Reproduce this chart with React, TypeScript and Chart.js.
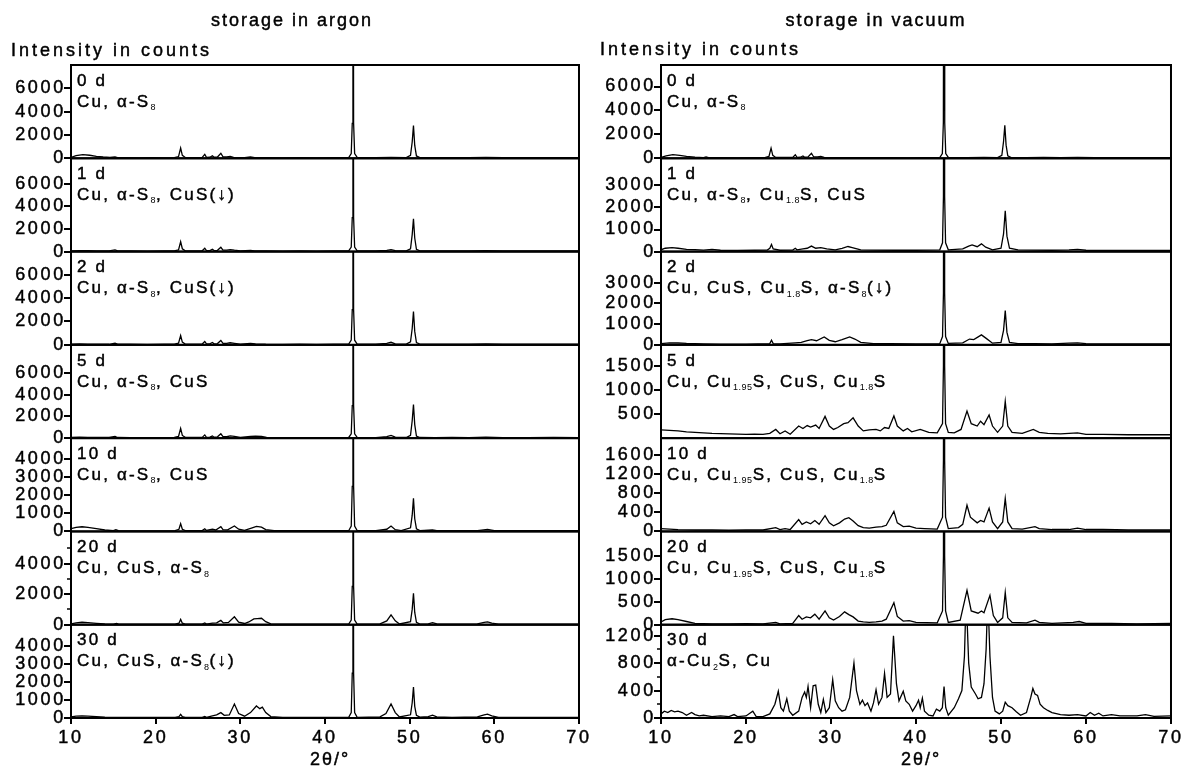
import React, { useEffect, useRef } from 'react';
import { Chart, registerables } from 'chart.js';

Chart.register(...registerables);

type Point = [number, number];

const FONT = '"Liberation Sans", Arial, Helvetica, sans-serif';

// 2θ axis ticks
const angleTicks = [10, 20, 30, 40, 50, 60, 70];

const dayLabels = ['0 d', '1 d', '2 d', '5 d', '10 d', '20 d', '30 d'];

// phase annotations, _{...} marks a subscript
const argonPhases = [
  'Cu, α-S_{8}',
  'Cu, α-S_{8}, CuS(↓)',
  'Cu, α-S_{8}, CuS(↓)',
  'Cu, α-S_{8}, CuS',
  'Cu, α-S_{8}, CuS',
  'Cu, CuS, α-S_{8}',
  'Cu, CuS, α-S_{8}(↓)',
];
const vacuumPhases = [
  'Cu, α-S_{8}',
  'Cu, α-S_{8}, Cu_{1.8}S, CuS',
  'Cu, CuS, Cu_{1.8}S, α-S_{8}(↓)',
  'Cu, Cu_{1.95}S, CuS, Cu_{1.8}S',
  'Cu, Cu_{1.95}S, CuS, Cu_{1.8}S',
  'Cu, Cu_{1.95}S, CuS, Cu_{1.8}S',
  'α-Cu_{2}S, Cu',
];

// intensity ranges and ticks per panel
const argonMax = [8000, 8240, 7970, 8600, 5170, 6100, 5200];
const argonTicks = [
  [0, 2000, 4000, 6000],
  [0, 2000, 4000, 6000],
  [0, 2000, 4000, 6000],
  [0, 2000, 4000, 6000],
  [0, 1000, 2000, 3000, 4000],
  [0, 2000, 4000],
  [0, 1000, 2000, 3000, 4000],
];
const argonMinorTicks = [[], [], [], [], [], [1000, 3000, 5000], []];

const vacuumMax = [7800, 4230, 4500, 1930, 1960, 2030, 1360];
const vacuumTicks = [
  [0, 2000, 4000, 6000],
  [0, 1000, 2000, 3000],
  [0, 1000, 2000, 3000],
  [500, 1000, 1500],
  [0, 400, 800, 1200, 1600],
  [0, 500, 1000, 1500],
  [0, 400, 800, 1200],
];
const vacuumMinorTicks = [[], [], [], [], [], [], [200, 600, 1000]];

// diffraction patterns: [2θ in °, intensity in counts]
const argon0d: Point[] = [
  [10, 80], [10.6, 220], [11.4, 320], [12.2, 260], [13, 170], [13.8, 110], [14.6, 70], [15.2, 110], [15.5, 60],
  [16.5, 50], [18, 40], [19.5, 50], [21, 40], [22.2, 60], [22.7, 150], [22.95, 880], [23.15, 250], [23.5, 70],
  [24.5, 60], [25.5, 70], [25.8, 330], [26.0, 80], [26.4, 90], [26.7, 220], [26.9, 90], [27.3, 110], [27.7, 430],
  [27.95, 130], [28.4, 120], [28.8, 170], [29.2, 80], [30.5, 60], [31.2, 110], [31.7, 60], [33, 50], [35, 40],
  [37, 50], [39, 40], [41, 50], [42.8, 60], [43.1, 400], [43.22, 3000], [43.3, 40000], [43.38, 3000], [43.5, 400],
  [43.8, 70], [46, 50], [47.8, 70], [49.6, 60], [50.1, 250], [50.3, 1400], [50.45, 2800], [50.6, 1100], [50.8, 200],
  [51.2, 60], [53, 50], [55, 60], [57, 50], [59, 70], [61, 50], [64, 50], [67, 60], [70, 50],
];
const argon1d: Point[] = [
  [10, 60], [11, 90], [12, 80], [13, 70], [14.5, 60], [15.2, 150], [15.5, 60], [17, 50], [19, 40], [21, 50],
  [22.2, 60], [22.7, 150], [22.95, 880], [23.15, 250], [23.5, 70], [25.5, 70], [25.8, 300], [26.0, 80], [26.4, 90],
  [26.7, 200], [26.9, 90], [27.3, 110], [27.7, 380], [27.95, 130], [28.4, 120], [28.8, 170], [29.3, 120], [30, 70],
  [31.2, 110], [31.7, 60], [33, 50], [35, 40], [37, 50], [39, 40], [41, 50], [42.8, 60], [43.1, 400], [43.22, 3000],
  [43.3, 40000], [43.38, 3000], [43.5, 400], [43.8, 70], [46, 50], [47.3, 100], [47.8, 170], [48.3, 80], [49.6, 60],
  [50.1, 250], [50.3, 1500], [50.45, 2900], [50.6, 1200], [50.8, 200], [51.2, 60], [53, 50], [55, 60], [57, 50],
  [59, 80], [61, 50], [64, 50], [67, 60], [70, 50],
];
const argon2d: Point[] = [
  [10, 60], [11, 80], [12, 70], [13, 60], [14.5, 50], [15.2, 140], [15.5, 60], [17, 50], [19, 40], [21, 50],
  [22.2, 60], [22.7, 150], [22.95, 800], [23.15, 230], [23.5, 70], [25.5, 70], [25.8, 290], [26.0, 80], [26.4, 90],
  [26.7, 200], [26.9, 90], [27.3, 110], [27.7, 380], [27.95, 130], [28.4, 120], [28.8, 180], [29.3, 130], [30, 70],
  [31.2, 120], [31.8, 90], [33, 50], [35, 40], [37, 50], [39, 40], [41, 50], [42.8, 60], [43.1, 400], [43.22, 3000],
  [43.3, 40000], [43.38, 3000], [43.5, 400], [43.8, 70], [46, 50], [47.3, 120], [47.8, 220], [48.3, 90], [49.6, 60],
  [50.1, 250], [50.3, 1400], [50.45, 2850], [50.6, 1150], [50.8, 200], [51.2, 60], [53, 50], [55, 60], [57, 50],
  [59, 80], [61, 50], [64, 50], [67, 60], [70, 50],
];
const argon5d: Point[] = [
  [10, 60], [11, 90], [12, 80], [13, 70], [14.5, 60], [15.2, 150], [15.5, 60], [17, 50], [19, 40], [21, 50],
  [22.2, 60], [22.7, 160], [22.95, 900], [23.15, 250], [23.5, 70], [25.5, 70], [25.8, 300], [26.0, 80], [26.4, 90],
  [26.7, 200], [26.9, 90], [27.3, 120], [27.7, 400], [27.95, 140], [28.4, 130], [28.8, 200], [29.3, 160], [30, 80],
  [31.2, 150], [31.8, 190], [32.5, 160], [33.1, 80], [35, 40], [37, 50], [39, 40], [41, 50], [42.8, 60], [43.1, 400],
  [43.22, 3000], [43.3, 40000], [43.38, 3000], [43.5, 400], [43.8, 70], [46, 50], [47.3, 130], [47.8, 260], [48.3, 100],
  [49.6, 60], [50.1, 260], [50.3, 1600], [50.45, 3100], [50.6, 1250], [50.8, 200], [51.2, 60], [53, 50], [55, 60],
  [57, 50], [59, 90], [61, 50], [64, 50], [67, 60], [70, 50],
];
const argon10d: Point[] = [
  [10, 150], [10.6, 230], [11.3, 260], [12, 220], [13, 150], [14, 80], [15, 50], [15.3, 90], [15.6, 40], [17, 30],
  [19, 30], [21, 30], [22.3, 50], [22.75, 120], [22.95, 430], [23.15, 120], [23.5, 50], [25.5, 50], [25.8, 150],
  [26.0, 60], [26.7, 120], [27.1, 80], [27.7, 260], [27.95, 100], [28.5, 90], [29.3, 300], [29.8, 120], [30.5, 60],
  [31.4, 200], [31.9, 280], [32.5, 240], [33.0, 100], [34, 50], [36, 40], [38, 40], [40, 40], [42.8, 40], [43.1, 300],
  [43.22, 2500], [43.3, 30000], [43.38, 2500], [43.5, 300], [43.8, 50], [46, 40], [47.3, 120], [47.8, 300], [48.3, 100],
  [49, 40], [50.1, 200], [50.3, 900], [50.45, 1830], [50.6, 700], [50.8, 150], [51.2, 50], [52.7, 80], [53.2, 40],
  [55, 40], [58, 50], [59.2, 110], [60, 40], [63, 40], [66, 40], [70, 40],
];
const argon20d: Point[] = [
  [10, 50], [10.6, 120], [11.3, 160], [12, 140], [13, 90], [14, 50], [15, 40], [15.4, 80], [15.7, 30], [17, 30],
  [19, 30], [21, 30], [22.3, 40], [22.75, 100], [22.95, 350], [23.15, 100], [23.5, 40], [25.5, 40], [25.8, 120],
  [26.0, 40], [26.7, 110], [27.2, 120], [27.7, 280], [28.0, 120], [28.6, 150], [29.3, 520], [29.8, 170], [30.5, 80],
  [31.0, 180], [31.6, 380], [32.0, 400], [32.5, 420], [33.0, 200], [33.6, 60], [35, 40], [37, 40], [40, 40],
  [42.8, 40], [43.1, 300], [43.22, 2500], [43.3, 30000], [43.38, 2500], [43.5, 300], [43.8, 40], [46.5, 50],
  [47.3, 250], [47.8, 650], [48.3, 250], [48.8, 50], [50.1, 200], [50.3, 1000], [50.45, 2050], [50.6, 800],
  [50.8, 150], [51.2, 40], [52.2, 60], [52.7, 130], [53.2, 50], [55, 40], [58, 60], [58.8, 150], [59.2, 180],
  [59.7, 100], [60.5, 40], [63, 40], [66, 30], [70, 40],
];
const argon30d: Point[] = [
  [10, 60], [10.6, 110], [11.3, 120], [12, 110], [13, 80], [14, 50], [15, 40], [17, 30], [19, 30], [21, 30],
  [22.3, 40], [22.75, 80], [22.95, 200], [23.15, 70], [23.5, 40], [25.5, 40], [25.8, 90], [26.0, 40], [26.7, 120],
  [27.2, 180], [27.7, 300], [28.1, 150], [28.7, 170], [29.3, 780], [29.8, 250], [30.5, 100], [31.2, 300],
  [31.9, 670], [32.3, 520], [32.6, 600], [33.0, 300], [33.6, 80], [35, 40], [37, 40], [40, 40], [42.8, 40],
  [43.1, 300], [43.22, 2500], [43.3, 30000], [43.38, 2500], [43.5, 300], [43.8, 40], [46.5, 60], [47.2, 250],
  [47.8, 780], [48.3, 300], [48.8, 60], [50.1, 180], [50.3, 850], [50.45, 1720], [50.6, 650], [50.8, 150],
  [51.2, 50], [52.2, 80], [52.7, 160], [53.2, 60], [55, 40], [58, 60], [58.8, 170], [59.2, 210], [59.7, 120],
  [60.5, 40], [63, 40], [66, 30], [70, 40],
];

const vacuum0d: Point[] = [
  [10, 80], [10.6, 200], [11.4, 300], [12.2, 250], [13, 160], [14, 100], [15, 60], [15.3, 110], [15.6, 50],
  [17, 50], [19, 40], [21, 50], [22.2, 60], [22.7, 150], [22.95, 850], [23.15, 250], [23.5, 70], [25.5, 70],
  [25.8, 300], [26.0, 80], [26.4, 90], [26.7, 200], [26.9, 90], [27.3, 120], [27.7, 420], [27.95, 130], [28.4, 110],
  [28.8, 150], [29.2, 80], [31, 60], [33, 60], [35, 50], [37, 60], [39, 40], [41, 50], [42.8, 60], [43.1, 400],
  [43.22, 3000], [43.3, 40000], [43.38, 3000], [43.5, 400], [43.8, 70], [46, 60], [48, 70], [49.6, 60], [50.1, 250],
  [50.3, 1400], [50.45, 2750], [50.6, 1100], [50.8, 200], [51.2, 60], [53, 60], [55, 70], [57, 60], [59, 80],
  [61, 50], [64, 60], [67, 50], [70, 50],
];
const vacuum1d: Point[] = [
  [10, 80], [10.5, 150], [11.3, 180], [12, 150], [13, 100], [14, 90], [15, 70], [16, 100], [17, 60], [19, 50],
  [21, 60], [22.5, 70], [22.8, 150], [23.0, 320], [23.2, 120], [24, 60], [25.5, 70], [25.8, 150], [26.0, 80],
  [26.7, 120], [27.2, 150], [27.7, 250], [28.2, 150], [28.8, 180], [29.5, 120], [30.5, 80], [31.3, 150], [32.0, 230],
  [32.5, 180], [33.5, 80], [35, 70], [37.5, 60], [40, 60], [42.8, 80], [43.12, 400], [43.23, 2500], [43.3, 30000],
  [43.37, 2500], [43.48, 400], [43.8, 80], [45.5, 120], [46.2, 250], [46.6, 300], [47.2, 220], [47.7, 350],
  [48.2, 200], [49, 80], [50.0, 150], [50.3, 800], [50.5, 1850], [50.7, 700], [51, 150], [52, 80], [54, 70],
  [56, 60], [58, 80], [59, 100], [60, 60], [63, 50], [67, 50], [70, 50],
];
const vacuum2d: Point[] = [
  [10, 60], [11, 100], [12, 90], [13, 70], [15, 50], [17, 40], [20, 40], [22.8, 60], [23.0, 220], [23.2, 60],
  [24, 50], [25.8, 100], [26.5, 120], [27.2, 200], [27.7, 250], [28.3, 200], [29.2, 380], [29.8, 220], [30.5, 150],
  [31.3, 250], [32.2, 380], [32.8, 280], [33.5, 120], [35, 60], [37, 60], [40, 50], [42.8, 60], [43.12, 400],
  [43.23, 2500], [43.3, 30000], [43.37, 2500], [43.48, 400], [43.8, 70], [45.5, 100], [46.3, 280], [46.8, 250],
  [47.7, 480], [48.3, 300], [49, 80], [50.0, 120], [50.3, 700], [50.5, 1650], [50.7, 600], [51, 120], [52, 60],
  [54, 60], [56, 50], [58, 80], [59, 100], [60, 60], [65, 50], [70, 50],
];
const vacuum5d: Point[] = [
  [10, 170], [11, 160], [12, 150], [13, 130], [14, 120], [15, 110], [16, 100], [17, 95], [18, 90], [19, 85],
  [20, 80], [21, 85], [22, 80], [22.8, 100], [23.5, 180], [24, 90], [24.6, 150], [25.2, 80], [26.2, 250], [26.7, 200],
  [27.2, 260], [27.6, 230], [28.2, 270], [28.6, 200], [29.3, 450], [29.8, 250], [30.3, 180], [30.8, 220], [31.5, 300],
  [32.0, 320], [32.6, 420], [33.2, 250], [33.8, 150], [34.5, 170], [35.3, 180], [35.8, 150], [36.3, 220], [36.8, 200],
  [37.4, 460], [37.8, 250], [38.5, 150], [39, 200], [39.5, 130], [40.5, 180], [41.5, 120], [42.5, 110],
  [43.12, 300], [43.23, 1500], [43.3, 15000], [43.37, 1500], [43.48, 300], [43.8, 120], [44.5, 110], [45.3, 180],
  [46.0, 560], [46.5, 300], [47.2, 250], [47.6, 350], [48.0, 280], [48.6, 480], [49.0, 250], [49.6, 120],
  [50.2, 250], [50.5, 760], [50.8, 250], [51.3, 120], [52.5, 100], [53.8, 180], [54.5, 120], [55.5, 100], [57, 90],
  [59, 110], [60, 80], [62, 80], [65, 70], [70, 70],
];
const vacuum10d: Point[] = [
  [10, 60], [11, 50], [12, 40], [14, 30], [16, 30], [18, 25], [20, 30], [22, 30], [23.5, 80], [24, 40], [24.6, 60],
  [25.2, 40], [26.2, 250], [26.6, 150], [27.1, 200], [27.6, 160], [28.1, 230], [28.6, 150], [29.3, 330], [29.8, 180],
  [30.3, 120], [31.0, 180], [31.6, 260], [32.1, 290], [32.6, 220], [33.2, 120], [33.8, 80], [34.5, 70], [35.3, 90],
  [36, 100], [36.5, 130], [37.4, 420], [37.8, 180], [38.5, 100], [39.2, 110], [40, 70], [41, 60], [42.5, 50],
  [43.12, 300], [43.23, 1500], [43.3, 15000], [43.37, 1500], [43.48, 300], [43.8, 60], [45, 80], [45.5, 150],
  [46.0, 550], [46.4, 300], [47.2, 180], [47.6, 230], [48.0, 200], [48.6, 490], [49.0, 200], [49.6, 60], [50.2, 200],
  [50.5, 690], [50.8, 200], [51.3, 60], [52.5, 50], [54, 100], [54.5, 60], [56, 40], [58, 40], [59, 70], [60, 40],
  [62, 40], [65, 30], [70, 30],
];
const vacuum20d: Point[] = [
  [10, 60], [10.5, 110], [11.3, 130], [12, 110], [13, 70], [14, 30], [16, 20], [18, 20], [20, 25], [22, 20],
  [23.5, 50], [24, 20], [25.5, 30], [26.2, 200], [26.6, 120], [27.1, 170], [27.6, 150], [28.1, 230], [28.6, 120],
  [29.3, 300], [29.8, 150], [30.3, 100], [31.0, 180], [31.6, 280], [32.1, 220], [32.6, 170], [33.2, 80], [33.8, 60],
  [34.5, 50], [35.3, 60], [36, 80], [36.5, 120], [37.4, 480], [37.8, 180], [38.5, 80], [39.2, 90], [40, 50],
  [42.5, 40], [43.12, 300], [43.23, 1500], [43.3, 15000], [43.37, 1500], [43.48, 300], [43.8, 50], [45.2, 100],
  [46.0, 750], [46.5, 300], [47.3, 250], [47.7, 300], [48.0, 260], [48.7, 640], [49.1, 200], [49.6, 50], [50.2, 150],
  [50.5, 700], [50.8, 150], [51.3, 50], [53, 40], [54, 100], [54.5, 50], [56, 30], [58.5, 50], [59.2, 70], [60, 30],
  [63, 30], [66, 20], [70, 30],
];
const vacuum30d: Point[] = [
  [10, 60], [10.4, 100], [10.8, 80], [11.2, 110], [11.6, 90], [12, 100], [12.5, 80], [13, 40], [13.6, 80], [14, 50],
  [14.5, 30], [15, 40], [16, 20], [17, 30], [18, 20], [18.6, 50], [19, 20], [20, 30], [20.8, 100], [21.2, 20],
  [22, 20], [22.8, 60], [23.4, 200], [23.8, 390], [24.1, 150], [24.4, 100], [24.8, 280], [25.1, 100], [25.5, 40],
  [26.2, 100], [26.6, 300], [26.9, 380], [27.1, 300], [27.3, 460], [27.6, 150], [27.9, 470], [28.2, 480], [28.5, 200],
  [28.8, 80], [29.1, 270], [29.4, 80], [29.8, 150], [30.2, 560], [30.5, 250], [30.9, 150], [31.3, 100], [31.7, 120],
  [32.2, 300], [32.7, 800], [33.0, 400], [33.4, 200], [33.7, 260], [34.0, 180], [34.3, 220], [34.7, 100], [35.0, 220],
  [35.3, 410], [35.6, 200], [36.0, 300], [36.3, 650], [36.6, 300], [37.0, 350], [37.35, 1200], [37.7, 500],
  [38.0, 250], [38.5, 390], [38.8, 250], [39.2, 200], [39.6, 100], [40.0, 180], [40.3, 260], [40.5, 150],
  [40.75, 290], [41.0, 100], [41.5, 40], [42.0, 30], [42.4, 130], [42.8, 100], [43.1, 150], [43.3, 460], [43.5, 150],
  [43.8, 40], [44.5, 150], [45.0, 280], [45.4, 400], [45.7, 900], [45.9, 1800], [46.2, 800], [46.5, 450], [47.0, 350],
  [47.3, 280], [47.7, 300], [48.0, 500], [48.25, 1000], [48.45, 1800], [48.7, 900], [49.0, 300], [49.3, 100],
  [49.8, 60], [50.2, 100], [50.5, 230], [50.8, 180], [51.3, 150], [51.8, 90], [52.3, 40], [53.0, 80], [53.5, 300],
  [53.75, 430], [54.0, 350], [54.3, 330], [54.6, 200], [55.0, 150], [55.5, 110], [56, 80], [57, 50], [58, 40],
  [59, 50], [60, 30], [60.5, 80], [61, 40], [61.5, 70], [62, 30], [63, 50], [64, 30], [66, 30], [67, 50], [68, 25],
  [70, 30],
];

interface ColumnSpec {
  title: string;
  spectra: Point[][];
  yMax: number[];
  yTicks: number[][];
  yMinor: number[][];
  phases: string[];
}

interface ColumnLayout {
  left: number;
  padLeft: number;
  padRight: number;
  titleX: number;
  intensityX: number;
  intensityY: number;
}

const argonColumn: ColumnSpec = {
  title: 'storage in argon',
  spectra: [argon0d, argon1d, argon2d, argon5d, argon10d, argon20d, argon30d],
  yMax: argonMax,
  yTicks: argonTicks,
  yMinor: argonMinorTicks,
  phases: argonPhases,
};
const vacuumColumn: ColumnSpec = {
  title: 'storage in vacuum',
  spectra: [vacuum0d, vacuum1d, vacuum2d, vacuum5d, vacuum10d, vacuum20d, vacuum30d],
  yMax: vacuumMax,
  yTicks: vacuumTicks,
  yMinor: vacuumMinorTicks,
  phases: vacuumPhases,
};

const argonLayout: ColumnLayout = { left: 0, padLeft: 11, padRight: 7, titleX: 292, intensityX: 11, intensityY: 51 };
const vacuumLayout: ColumnLayout = { left: 592, padLeft: 9, padRight: 12, titleX: 284, intensityX: 8, intensityY: 50 };

const CANVAS_W = 592;
const CANVAS_H = 776;
const Y_AXIS_W = 60;
const X_AXIS_H = 40;
const TEXT_STROKE = 0.45;

function splitSubscripts(text: string) {
  const parts: { t: string; sub: boolean }[] = [];
  const re = /_\{([^}]*)\}/g;
  let last = 0;
  let m: RegExpExecArray | null;
  while ((m = re.exec(text))) {
    if (m.index > last) parts.push({ t: text.slice(last, m.index), sub: false });
    parts.push({ t: m[1], sub: true });
    last = re.lastIndex;
  }
  if (last < text.length) parts.push({ t: text.slice(last), sub: false });
  return parts;
}

// filled text with a thin outline so it reads a little heavier
function boldText(ctx: any, t: string, x: number, y: number) {
  ctx.fillText(t, x, y);
  ctx.strokeText(t, x, y);
}

function drawRichText(ctx: any, text: string, x: number, y: number, size: number) {
  let cx = x;
  for (const p of splitSubscripts(text)) {
    if (p.sub) {
      ctx.font = `${Math.round(size * 0.55)}px ${FONT}`;
      ctx.letterSpacing = '0.5px';
      ctx.fillText(p.t, cx, y + size * 0.33);
    } else {
      ctx.font = `${size}px ${FONT}`;
      ctx.letterSpacing = '2.2px';
      boldText(ctx, p.t, cx, y);
    }
    cx += ctx.measureText(p.t).width;
  }
}

function SpectraColumn({ spec, layout }: { spec: ColumnSpec; layout: ColumnLayout }) {
  const ref = useRef<HTMLCanvasElement>(null);

  useEffect(() => {
    const canvas = ref.current;
    if (!canvas) return;
    const n = spec.spectra.length;

    const tickFont = { family: FONT, size: 18 };

    const scales: any = {
      x: {
        type: 'linear',
        position: 'bottom',
        min: 10,
        max: 70,
        afterBuildTicks: (s: any) => {
          s.ticks = angleTicks.map((v) => ({ value: v }));
        },
        afterFit: (s: any) => {
          s.height = X_AXIS_H;
        },
        grid: { display: true, drawOnChartArea: false, drawTicks: true, tickLength: 6, color: '#000', lineWidth: 2 },
        border: { display: false },
        ticks: {
          autoSkip: false,
          maxRotation: 0,
          color: '#000',
          padding: 3,
          font: tickFont,
          textStrokeColor: '#000',
          textStrokeWidth: TEXT_STROKE,
          callback: (v: any) => String(v),
        },
      },
    };

    spec.spectra.forEach((_, i) => {
      scales['y' + i] = {
        type: 'linear',
        position: 'left',
        stack: 'panels',
        stackWeight: 1,
        weight: n - i,
        min: 0,
        max: spec.yMax[i],
        afterBuildTicks: (s: any) => {
          s.ticks = spec.yTicks[i].map((v) => ({ value: v }));
        },
        afterFit: (s: any) => {
          s.width = Y_AXIS_W;
        },
        grid: { display: false, drawTicks: false },
        border: { display: false },
        ticks: {
          autoSkip: false,
          color: '#000',
          padding: 5,
          font: tickFont,
          textStrokeColor: '#000',
          textStrokeWidth: TEXT_STROKE,
          callback: (v: any) => String(v),
        },
      };
    });

    const decor = {
      id: 'columnDecor',
      beforeDraw(chart: any) {
        chart.ctx.letterSpacing = '2.7px';
      },
      afterDatasetsDraw(chart: any) {
        const ctx = chart.ctx;
        const a = chart.chartArea;
        ctx.save();
        ctx.strokeStyle = '#000';
        ctx.fillStyle = '#000';
        spec.spectra.forEach((_, i) => {
          const s = chart.scales['y' + i];
          ctx.lineWidth = 2;
          ctx.strokeRect(a.left, s.top, a.right - a.left, s.bottom - s.top);
          ctx.beginPath();
          for (const v of spec.yTicks[i]) {
            const py = Math.round(s.getPixelForValue(v));
            ctx.moveTo(a.left - 7, py);
            ctx.lineTo(a.left, py);
          }
          ctx.stroke();
          ctx.lineWidth = 1.5;
          ctx.beginPath();
          for (const v of spec.yMinor[i]) {
            const py = Math.round(s.getPixelForValue(v));
            ctx.moveTo(a.left - 4, py);
            ctx.lineTo(a.left, py);
          }
          ctx.stroke();

          ctx.lineWidth = TEXT_STROKE;
          ctx.textAlign = 'left';
          ctx.textBaseline = 'middle';
          ctx.font = `17px ${FONT}`;
          ctx.letterSpacing = '2.2px';
          boldText(ctx, dayLabels[i], a.left + 6, s.top + 16);
          drawRichText(ctx, spec.phases[i], a.left + 6, s.top + 37, 17);
        });

        ctx.lineWidth = TEXT_STROKE;
        ctx.textBaseline = 'middle';
        ctx.font = `18px ${FONT}`;
        ctx.letterSpacing = '2px';
        ctx.textAlign = 'center';
        boldText(ctx, spec.title, layout.titleX, 21);

        ctx.letterSpacing = '3px';
        ctx.textAlign = 'left';
        boldText(ctx, 'Intensity in counts', layout.intensityX, layout.intensityY);

        ctx.letterSpacing = '2px';
        ctx.textAlign = 'center';
        boldText(ctx, '2θ/°', (a.left + a.right) / 2 + 5, 760);
        ctx.restore();
      },
    };

    const chart = new Chart(canvas, {
      type: 'line',
      data: {
        datasets: spec.spectra.map((pts, i) => ({
          data: pts.map(([x, y]) => ({ x, y })),
          xAxisID: 'x',
          yAxisID: 'y' + i,
          borderColor: '#000',
          borderWidth: 1.3,
          pointRadius: 0,
          fill: false,
          tension: 0,
        })),
      },
      options: {
        animation: false,
        responsive: false,
        devicePixelRatio: 1,
        events: [],
        layout: {
          padding: {
            left: layout.padLeft,
            right: layout.padRight,
            top: 65,
            bottom: CANVAS_H - 718 - X_AXIS_H,
          },
        },
        plugins: {
          legend: { display: false },
          tooltip: { enabled: false },
        },
        scales,
      } as any,
      plugins: [decor],
    });

    return () => chart.destroy();
  }, [spec, layout]);

  return (
    <canvas
      ref={ref}
      width={CANVAS_W}
      height={CANVAS_H}
      style={{ position: 'absolute', left: layout.left, top: 0, width: CANVAS_W, height: CANVAS_H }}
    />
  );
}

export default function App() {
  return (
    <div style={{ position: 'absolute', left: 0, top: 0, width: 1184, height: 776, background: '#fff', overflow: 'hidden' }}>
      <SpectraColumn spec={argonColumn} layout={argonLayout} />
      <SpectraColumn spec={vacuumColumn} layout={vacuumLayout} />
    </div>
  );
}
